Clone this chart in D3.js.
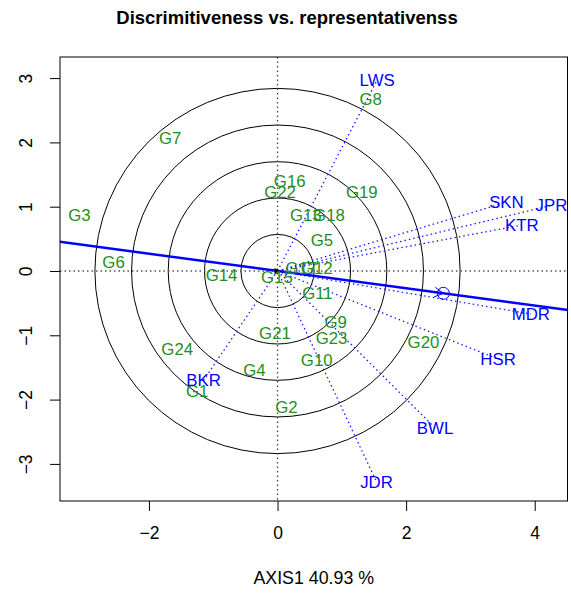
<!DOCTYPE html>
<html>
<head>
<meta charset="utf-8">
<script src="https://cdn.jsdelivr.net/npm/d3@7"></script>
<style>
  body { margin: 0; background: #fff; }
  text { font-family: "Liberation Sans", Arial, Helvetica, sans-serif; }
</style>
</head>
<body>
<svg id="chart" width="571" height="594"></svg>
<script>
// genotype scores (green labels)
const genoNames = ["G1","G2","G3","G4","G5","G6","G7","G8","G9","G10","G11","G12",
  "G13","G14","G15","G16","G17","G18","G19","G20","G21","G22","G23","G24"];
const genoX = [-1.25, 0.14, -3.08, -0.36, 0.69, -2.55, -1.67, 1.45, 0.905, 0.61, 0.62, 0.61,
  0.44, -0.87, -0.01, 0.19, 0.37, 0.80, 1.31, 2.27, -0.04, 0.04, 0.84, -1.56];
const genoY = [-1.87, -2.12, 0.87, -1.54, 0.48, 0.145, 2.06, 2.68, -0.80, -1.38, -0.35, 0.04,
  0.87, -0.06, -0.10, 1.39, 0.04, 0.87, 1.23, -1.11, -0.97, 1.23, -1.05, -1.22];

// environment scores (blue labels + dotted vectors)
const envNames = ["LWS","SKN","JPR","KTR","MDR","HSR","BWL","JDR","BKR"];
const envX = [1.55, 3.56, 4.26, 3.80, 3.94, 3.43, 2.45, 1.54, -1.15];
const envY = [2.97, 1.07, 1.02, 0.715, -0.67, -1.37, -2.44, -3.28, -1.70];

// average environment and concentric circles
const avgEnv = [2.58, -0.347];
const circleRadii = [0.569, 1.135, 1.70, 2.27, 2.84];

const xTicks = [-2, 0, 2, 4];
const yTicks = [-3, -2, -1, 0, 1, 2, 3];

const plotLeft = 60, plotRight = 567.5, plotTop = 57, plotBottom = 501;

const svg = d3.select("#chart");

const x = d3.scaleLinear().domain([-3.383, 4.51]).range([plotLeft, plotRight]);
const y = d3.scaleLinear().domain([3.328, -3.577]).range([plotTop, plotBottom]);
const unit = x(1) - x(0);

svg.append("defs").append("clipPath").attr("id", "clip")
  .append("rect")
  .attr("x", plotLeft).attr("y", plotTop)
  .attr("width", plotRight - plotLeft).attr("height", plotBottom - plotTop);

const plot = svg.append("g").attr("clip-path", "url(#clip)");

// concentric circles
plot.selectAll("circle.ring")
  .data(circleRadii)
  .enter()
  .append("circle")
  .attr("class", "ring")
  .attr("cx", x(0))
  .attr("cy", y(0))
  .attr("r", d => d * unit)
  .attr("fill", "none")
  .attr("stroke", "#000")
  .attr("stroke-width", 1);

// dotted axes through origin
plot.append("line")
  .attr("x1", plotLeft).attr("x2", plotRight)
  .attr("y1", y(0)).attr("y2", y(0))
  .attr("stroke", "#555").attr("stroke-width", 1.3)
  .attr("stroke-dasharray", "1.5,3");
plot.append("line")
  .attr("x1", x(0)).attr("x2", x(0))
  .attr("y1", plotTop).attr("y2", plotBottom)
  .attr("stroke", "#444").attr("stroke-width", 1.3)
  .attr("stroke-dasharray", "1.5,3");

// environment vectors
plot.selectAll("line.env")
  .data(envNames)
  .enter()
  .append("line")
  .attr("class", "env")
  .attr("x1", x(0)).attr("y1", y(0))
  .attr("x2", (d, i) => x(envX[i]))
  .attr("y2", (d, i) => y(envY[i]))
  .attr("stroke", "#1a1aff")
  .attr("stroke-width", 1.3)
  .attr("stroke-dasharray", "1.5,3");

// average environment axis
const slope = avgEnv[1] / avgEnv[0];
plot.append("line")
  .attr("x1", x(-3.5)).attr("y1", y(-3.5 * slope))
  .attr("x2", x(4.6)).attr("y2", y(4.6 * slope))
  .attr("stroke", "blue")
  .attr("stroke-width", 2.5);

// average environment marker (circle with arrow head)
const ax = x(avgEnv[0]), ay = y(avgEnv[1]);
const ang = Math.atan2(ay - y(0), ax - x(0));
plot.append("circle")
  .attr("cx", ax).attr("cy", ay).attr("r", 6)
  .attr("fill", "none").attr("stroke", "blue").attr("stroke-width", 1);
[-0.5, 0.5].forEach(a => {
  plot.append("line")
    .attr("x1", ax).attr("y1", ay)
    .attr("x2", ax - 10 * Math.cos(ang + a))
    .attr("y2", ay - 10 * Math.sin(ang + a))
    .attr("stroke", "blue").attr("stroke-width", 1);
});

// small arrow head at the origin
const ox = x(0), oy = y(0);
plot.append("path")
  .attr("d", `M${ox + 4},${oy + 0.5} L${ox - 3},${oy - 3} L${ox - 3},${oy + 3.5} Z`)
  .attr("fill", "#000");

// genotype labels
svg.append("g").selectAll("text")
  .data(genoNames)
  .enter()
  .append("text")
  .attr("x", (d, i) => x(genoX[i]))
  .attr("y", (d, i) => y(genoY[i]))
  .attr("dy", "0.35em")
  .attr("text-anchor", "middle")
  .attr("font-size", 16.8)
  .attr("fill", "#1f8f1f")
  .text(d => d);

// environment labels
svg.append("g").selectAll("text")
  .data(envNames)
  .enter()
  .append("text")
  .attr("x", (d, i) => x(envX[i]))
  .attr("y", (d, i) => y(envY[i]))
  .attr("dy", "0.35em")
  .attr("text-anchor", "middle")
  .attr("font-size", 16.8)
  .attr("fill", "blue")
  .text(d => d);

// box
svg.append("rect")
  .attr("x", plotLeft).attr("y", plotTop)
  .attr("width", plotRight - plotLeft).attr("height", plotBottom - plotTop)
  .attr("fill", "none").attr("stroke", "#000").attr("stroke-width", 1);

// x axis
const gx = svg.append("g")
  .attr("transform", "translate(0," + plotBottom + ")")
  .call(d3.axisBottom(x).tickValues(xTicks).tickSize(10).tickFormat(d3.format("d")));
gx.select(".domain").remove();
gx.selectAll("line").attr("stroke", "#000");
gx.selectAll("text")
  .attr("y", 38).attr("dy", 0)
  .attr("font-size", 17.5)
  .attr("font-family", "Liberation Sans, Arial, sans-serif")
  .attr("fill", "#000");

// y axis
const gy = svg.append("g")
  .attr("transform", "translate(" + plotLeft + ",0)")
  .call(d3.axisLeft(y).tickValues(yTicks).tickSize(10).tickFormat(d3.format("d")));
gy.select(".domain").remove();
gy.selectAll("line").attr("stroke", "#000");
gy.selectAll("text")
  .attr("x", 0).attr("dy", "0.35em")
  .attr("text-anchor", "middle")
  .attr("transform", "translate(-34,0) rotate(-90)")
  .attr("font-size", 17.5)
  .attr("font-family", "Liberation Sans, Arial, sans-serif")
  .attr("fill", "#000");

// titles
svg.append("text")
  .attr("x", 287).attr("y", 24)
  .attr("text-anchor", "middle")
  .attr("font-size", 18.5)
  .attr("font-weight", "bold")
  .text("Discrimitiveness vs. representativenss");

svg.append("text")
  .attr("x", (plotLeft + plotRight) / 2).attr("y", 584)
  .attr("text-anchor", "middle")
  .attr("font-size", 17.8)
  .text("AXIS1 40.93 %");
</script>
</body>
</html>
